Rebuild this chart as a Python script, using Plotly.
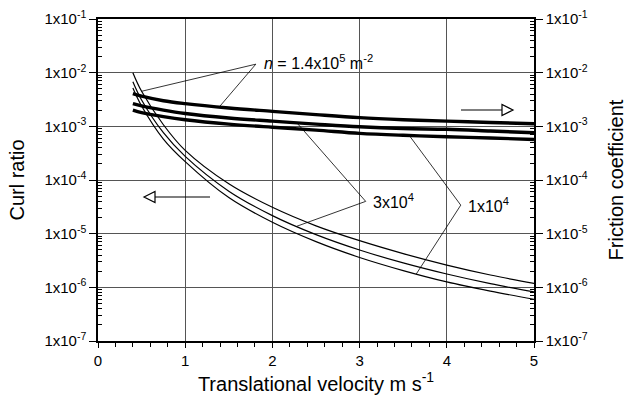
import numpy as np
import plotly.graph_objects as go

# Translational velocity (m s^-1)
velocity = [0.4, 0.5, 0.75, 1.0, 1.5, 2.0, 2.5, 3.0, 3.5, 4.0, 4.5, 5.0]

# Curl ratio (left axis) for three spot densities n
curl_n140k = [1.0e-2, 4.5e-3, 1.07e-3, 3.56e-4, 8.5e-5, 3.1e-5, 1.4e-5, 7.4e-6, 4.25e-6, 2.6e-6, 1.7e-6, 1.18e-6]
curl_n30k = [6.8e-3, 3.1e-3, 7.6e-4, 2.75e-4, 6.2e-5, 2.17e-5, 9.6e-6, 4.96e-6, 2.85e-6, 1.77e-6, 1.17e-6, 8.2e-7]
curl_n10k = [5.2e-3, 2.4e-3, 5.8e-4, 2.2e-4, 4.7e-5, 1.63e-5, 7.1e-6, 3.6e-6, 2.05e-6, 1.26e-6, 8.5e-7, 6.0e-7]

# Friction coefficient (right axis) for the same densities
friction_n140k = [4.07e-3, 3.65e-3, 3.0e-3, 2.65e-3, 2.2e-3, 1.9e-3, 1.65e-3, 1.45e-3, 1.33e-3, 1.25e-3, 1.18e-3, 1.12e-3]
friction_n30k = [2.65e-3, 2.4e-3, 2.0e-3, 1.73e-3, 1.43e-3, 1.25e-3, 1.1e-3, 9.8e-4, 9.1e-4, 8.8e-4, 8.2e-4, 7.6e-4]
friction_n10k = [2.0e-3, 1.8e-3, 1.52e-3, 1.33e-3, 1.1e-3, 9.6e-4, 8.5e-4, 7.4e-4, 6.8e-4, 6.4e-4, 6.05e-4, 5.7e-4]

x_ticks = [0, 1, 2, 3, 4, 5]
y_exponents = [-7, -6, -5, -4, -3, -2, -1]
y_ticktext = ["1x10<sup>%d</sup>" % e for e in y_exponents]
y_tickvals = [10.0 ** e for e in y_exponents]
y_minor = [k * 10.0 ** e for e in y_exponents[:-1] for k in range(2, 10)]

FONT = "Liberation Sans, Arial, Helvetica, sans-serif"
L, R, T, B = 98, 93, 19, 59
W, H = 627, 400


def on_curve(vals, v):
    """Value of a curve at velocity v (interpolated in log space)."""
    return float(10 ** np.interp(v, velocity, np.log10(vals)))


def px(xp):
    return (xp - L) / (W - L - R)


def py(yp):
    return (H - B - yp) / (H - T - B)


fig = go.Figure()

for vals in (curl_n140k, curl_n30k, curl_n10k):
    fig.add_trace(go.Scatter(x=velocity, y=vals, mode="lines", yaxis="y",
                             line=dict(color="black", width=1.2, shape="spline"),
                             showlegend=False, hoverinfo="skip"))

for vals in (friction_n140k, friction_n30k, friction_n10k):
    fig.add_trace(go.Scatter(x=velocity, y=vals, mode="lines", yaxis="y2",
                             line=dict(color="black", width=3.4, shape="spline"),
                             showlegend=False, hoverinfo="skip"))

# Leader lines from each label to its pair of curves
leaders = [
    ((1.81, 1.44e-2), [(0.5, curl_n140k), (1.39, friction_n140k)]),
    ((3.07, 4.0e-5), [(2.28, friction_n30k), (2.28, curl_n30k)]),
    ((4.16, 3.4e-5), [(3.57, friction_n10k), (3.65, curl_n10k)]),
]
for (vx, vy), ends in leaders:
    xs, ys = [], []
    for v, vals in ends:
        xs += [vx, v, None]
        ys += [vy, on_curve(vals, v), None]
    fig.add_trace(go.Scatter(x=xs, y=ys, mode="lines", yaxis="y",
                             line=dict(color="black", width=0.8),
                             showlegend=False, hoverinfo="skip"))

ann_font = dict(family=FONT, size=16, color="black")
fig.add_annotation(x=1.88, y=np.log10(1.55e-2), xref="x", yref="y",
                   text="<i>n</i> = 1.4x10<sup>5</sup> m<sup>-2</sup>",
                   showarrow=False, xanchor="left", yanchor="middle", font=ann_font)
fig.add_annotation(x=3.13, y=np.log10(4.0e-5), xref="x", yref="y",
                   text="3x10<sup>4</sup>",
                   showarrow=False, xanchor="left", yanchor="middle", font=ann_font)
fig.add_annotation(x=4.22, y=np.log10(3.4e-5), xref="x", yref="y",
                   text="1x10<sup>4</sup>",
                   showarrow=False, xanchor="left", yanchor="middle", font=ann_font)


# Direction arrows with open heads
def arrow(x_tail, x_tip, y, head=11, half=5.5):
    sgn = 1 if x_tip > x_tail else -1
    base = x_tip - sgn * head
    fig.add_shape(type="line", xref="paper", yref="paper",
                  x0=px(x_tail), y0=py(y), x1=px(base), y1=py(y),
                  line=dict(color="black", width=1.2))
    path = "M %f %f L %f %f L %f %f Z" % (px(x_tip), py(y), px(base), py(y - half),
                                           px(base), py(y + half))
    fig.add_shape(type="path", xref="paper", yref="paper", path=path,
                  fillcolor="white", line=dict(color="black", width=1.2))


arrow(210, 144, 197)
arrow(461, 513, 110)

axis_common = dict(
    showline=True, linecolor="black", linewidth=1.5, automargin=False,
    ticks="outside", tickcolor="black", tickwidth=1,
    tickfont=dict(family=FONT, size=15, color="black"),
)
title_font = dict(family=FONT, size=20, color="black")

fig.update_layout(
    width=W, height=H,
    margin=dict(l=L, r=R, t=T, b=B, autoexpand=False),
    paper_bgcolor="white", plot_bgcolor="white",
    font=dict(family=FONT, color="black"),
    xaxis=dict(
        range=[0, 5], tickvals=x_ticks, ticklen=5, mirror=True,
        showgrid=True, gridcolor="#555", gridwidth=1, zeroline=False,
        minor=dict(ticks="outside", ticklen=4, tick0=0, dtick=0.2,
                   tickcolor="black", showgrid=False),
        title=dict(text="Translational velocity m s<sup>-1</sup>",
                   font=title_font, standoff=9),
        **axis_common,
    ),
    yaxis=dict(
        type="log", range=[-7, -1], tickvals=y_tickvals, ticktext=y_ticktext,
        ticklen=7, showgrid=True, gridcolor="#555", gridwidth=1, zeroline=False,
        minor=dict(ticks="inside", ticklen=4, tickvals=y_minor,
                   tickcolor="black", showgrid=False),
        title=dict(text="Curl ratio", font=title_font, standoff=14),
        **axis_common,
    ),
    yaxis2=dict(
        type="log", range=[-7, -1], tickvals=y_tickvals, ticktext=y_ticktext,
        ticklen=7, overlaying="y", side="right", showgrid=False, zeroline=False,
        minor=dict(ticks="inside", ticklen=4, tickvals=y_minor,
                   tickcolor="black", showgrid=False),
        title=dict(text="Friction coefficient", font=title_font, standoff=22),
        **axis_common,
    ),
)

fig.write_html("out.html")
